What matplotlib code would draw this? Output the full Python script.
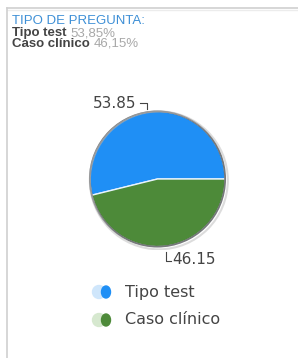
import matplotlib
matplotlib.use("Agg")
import matplotlib.pyplot as plt
from matplotlib.patches import Circle, Ellipse
from matplotlib.lines import Line2D

# data
categories = ["Tipo test", "Caso clínico"]
values = [53.85, 46.15]
header_values = ["53,85%", "46,15%"]
colors = ["#1f8ff5", "#4d8a39"]
light_colors = ["#cfe6fb", "#d6e8cf"]

W, H = 298, 358
fig = plt.figure(figsize=(W / 100, H / 100), dpi=100)
fig.patch.set_facecolor("white")

# light frame (top + left)
frame = fig.add_axes([0, 0, 1, 1])
frame.set_xlim(0, W)
frame.set_ylim(H, 0)
frame.axis("off")
frame.plot([7, W], [7.5, 7.5], color="#d0d0d0", lw=1.2)
frame.plot([7, W], [9.5, 9.5], color="#ececec", lw=1.0)
frame.plot([7, 7], [7.5, H], color="#d0d0d0", lw=1.2)

# header
frame.text(12, 21.5, "TIPO DE PREGUNTA:", color="#3d8fd6", fontsize=9.5,
           family="Liberation Sans", va="center")
fig.canvas.draw()
for i, (cat, hv) in enumerate(zip(categories, header_values)):
    y = 33 + i * 11
    t = frame.text(12, y, cat, color="#444444", fontsize=9.5, fontweight="bold",
                   family="Liberation Sans", va="center")
    fig.canvas.draw()
    bb = t.get_window_extent()
    frame.text(bb.x1 + 3.5, y, hv, color="#a8a8a8", fontsize=9.5,
               family="Liberation Sans", va="center")

# pie
cx, cy, r = 157.5, 179, 71
ax = fig.add_axes([(cx - r) / W, (H - cy - r) / H, 2 * r / W, 2 * r / H])
wedges, _ = ax.pie(values, colors=colors, startangle=0, counterclock=True,
                   radius=1.0, wedgeprops=dict(edgecolor="#e8f4ff", linewidth=1.0))
ax.add_patch(Circle((0, 0), 1.0, fill=False, edgecolor="#5a5a5a", lw=1.3, alpha=0.8))
ax.add_patch(Circle((0.02, -0.02), 1.02, fill=False, edgecolor="#bbbbbb", lw=1.5, alpha=0.5))
ax.set_xlim(-1.05, 1.05)
ax.set_ylim(-1.05, 1.05)
ax.axis("off")

# value labels with bracket leaders
frame.text(136, 103, f"{values[0]:.2f}", color="#444444", fontsize=11,
           family="DejaVu Sans", ha="right", va="center")
frame.add_line(Line2D([140, 147, 147], [103, 103, 109], color="#444444", lw=0.8))
frame.text(172, 260, f"{values[1]:.2f}", color="#444444", fontsize=11,
           family="DejaVu Sans", ha="left", va="center")
frame.add_line(Line2D([166, 166, 171], [252, 261, 261], color="#444444", lw=0.8))

# legend
for i, cat in enumerate(categories):
    y = 292 + i * 28
    frame.add_patch(Circle((99, y), 6.5, color=light_colors[i], zorder=3))
    frame.add_patch(Ellipse((106, y), 9, 12, color=colors[i], zorder=4))
    frame.text(125, y, cat, color="#444444", fontsize=11.5,
               family="DejaVu Sans", va="center")

fig.savefig("out.png", dpi=100)
